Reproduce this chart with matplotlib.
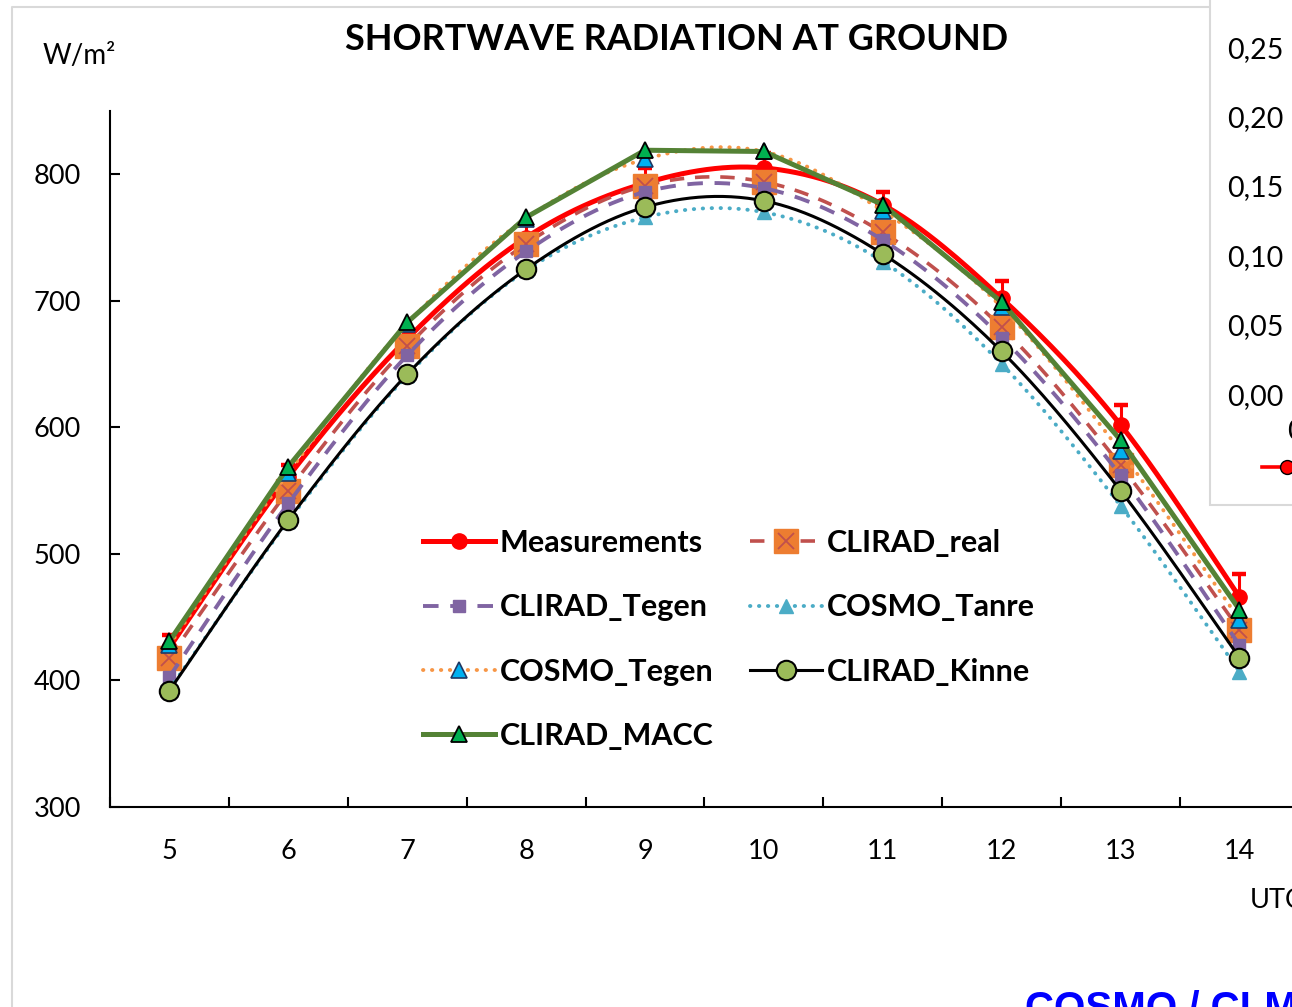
import matplotlib
matplotlib.use("Agg")
import matplotlib.pyplot as plt
import numpy as np
from matplotlib.lines import Line2D
from matplotlib.patches import Rectangle
from matplotlib.legend_handler import HandlerTuple

plt.rcParams['font.family'] = ['Lato', 'DejaVu Sans']

# data (W/m2, per UTC hour)
hours = [5, 6, 7, 8, 9, 10, 11, 12, 13, 14]
measurements = [426, 561, 670, 750, 793, 805, 776, 702, 602, 466]
meas_err = [10, 9, 7, 11, 12, 12, 10, 14, 16, 18]
clirad_real = [418, 550, 664, 745, 791, 794, 754, 679, 570, 440]
clirad_tegen = [403, 540, 657, 739, 786, 789, 748, 671, 562, 428]
cosmo_tanre = [393, 526, 641, 724, 766, 770, 731, 650, 538, 407]
cosmo_tegen = [428, 564, 682, 765, 812, 818, 771, 695, 581, 448]
clirad_kinne = [392, 527, 642, 725, 774, 779, 737, 660, 550, 418]
clirad_macc = [431, 569, 683, 766, 819, 818, 776, 699, 590, 456]

y_ticks = [300, 400, 500, 600, 700, 800]
right_ticks = ['0,25', '0,20', '0,15', '0,10', '0,05', '0,00']

W, H = 1292, 1007


def fx(px):
    return px / W


def fy(py):
    return 1 - py / H


# Excel-like smoothed line (bezier through the points)
def smooth(x, y, n=30):
    x = np.asarray(x, float)
    y = np.asarray(y, float)
    px = np.concatenate([[x[0]], x, [x[-1]]])
    py = np.concatenate([[y[0]], y, [y[-1]]])
    t = np.linspace(0, 1, n)
    xs, ys = [], []
    for i in range(len(x) - 1):
        p0 = np.array([px[i], py[i]])
        p1 = np.array([px[i + 1], py[i + 1]])
        p2 = np.array([px[i + 2], py[i + 2]])
        p3 = np.array([px[i + 3], py[i + 3]])
        c1 = p1 + (p2 - p0) / 6
        c2 = p2 - (p3 - p1) / 6
        b = ((1 - t) ** 3)[:, None] * p1 + (3 * (1 - t) ** 2 * t)[:, None] * c1 \
            + (3 * (1 - t) * t ** 2)[:, None] * c2 + (t ** 3)[:, None] * p2
        xs.append(b[:, 0])
        ys.append(b[:, 1])
    return np.concatenate(xs), np.concatenate(ys)


fig = plt.figure(figsize=(W / 100, H / 100), dpi=100)
ax = fig.add_axes([fx(110), fy(807), (W - 110) / W, (807 - 111) / H])

# series styles: (label, data, line kwargs, marker kwargs, smoothed)
dash = (0, (4, 3))
dot = (0, (0.1, 2.2))
series = [
    ('Measurements', measurements, dict(color='#FF0000', lw=3.6, ls='-'),
     dict(marker='o', ms=11, mfc='#FF0000', mec='#FF0000'), True),
    ('CLIRAD_real', clirad_real, dict(color='#C0504D', lw=2.6, ls=dash),
     dict(marker='s', ms=17, mfc='#ED7D31', mec='#ED7D31'), True),
    ('CLIRAD_Tegen', clirad_tegen, dict(color='#8064A2', lw=2.8, ls=dash),
     dict(marker='s', ms=9, mfc='#8064A2', mec='#8064A2'), True),
    ('COSMO_Tanre', cosmo_tanre, dict(color='#4BACC6', lw=2.8, ls=dot, dash_capstyle='round'),
     dict(marker='^', ms=10, mfc='#4BACC6', mec='#4BACC6'), True),
    ('COSMO_Tegen', cosmo_tegen, dict(color='#F79646', lw=2.8, ls=dot, dash_capstyle='round'),
     dict(marker='^', ms=11, mfc='#00B0F0', mec='#1F3864', mew=1.2), True),
    ('CLIRAD_Kinne', clirad_kinne, dict(color='#000000', lw=2.2, ls='-'),
     dict(marker='o', ms=14, mfc='#9BBB59', mec='#000000', mew=1.5), True),
    ('CLIRAD_MACC', clirad_macc, dict(color='#548235', lw=3.6, ls='-'),
     dict(marker='^', ms=11, mfc='#00B050', mec='#000000', mew=1.3), False),
]

handles = {}
for i, (label, vals, lkw, mkw, sm) in enumerate(series):
    z = 2 + 2 * i
    if sm:
        sx, sy = smooth(hours, vals)
    else:
        sx, sy = hours, vals
    ax.plot(sx, sy, zorder=z, **lkw)
    if label == 'Measurements':
        ax.errorbar(hours, vals, yerr=[np.zeros(len(vals)), meas_err], fmt='none',
                    ecolor='#FF0000', elinewidth=2.2, capsize=0, zorder=z)
        top = np.array(vals) + np.array(meas_err)
        ax.plot(hours, top, ls='none', marker='_', ms=10, mew=3.2, color='#FF0000', zorder=z)
    ax.plot(hours, vals, ls='none', zorder=z + 1, **mkw)
    h = Line2D([], [], **lkw, **mkw)
    if label == 'CLIRAD_real':
        ax.plot(hours, vals, ls='none', marker='x', ms=12, mew=1.3, color='#C0504D',
                zorder=z + 1)
        hx = Line2D([], [], ls='none', marker='x', ms=12, mew=1.3, color='#C0504D')
        h = (h, hx)
    handles[label] = h

ax.set_yticks(y_ticks)
ax.set_xticks(np.arange(4.5, 15, 1))
ax.set_xticks(hours, minor=True)
ax.set_xticklabels([])
ax.set_xticklabels([str(h) for h in hours], minor=True)
ax.set_xlim(4.5, 4.5 + (W - 110) / 118.89)
ax.set_ylim(300, 850)
ax.tick_params(axis='x', which='major', direction='in', length=7, width=1.5)
ax.tick_params(axis='x', which='minor', length=0, pad=23, labelsize=19.5)
ax.tick_params(axis='y', direction='in', length=7, width=1.5, pad=21, labelsize=19.5)
for s in ['top', 'right']:
    ax.spines[s].set_visible(False)
for s in ['left', 'bottom']:
    ax.spines[s].set_linewidth(1.5)

order = ['Measurements', 'CLIRAD_Tegen', 'COSMO_Tegen', 'CLIRAD_MACC',
         'CLIRAD_real', 'COSMO_Tanre', 'CLIRAD_Kinne']
leg = fig.legend([handles[k] for k in order], order, ncol=2, loc='upper left',
                 bbox_to_anchor=(fx(423), fy(529)), frameon=False,
                 prop=dict(weight='bold', size=22), handlelength=2.36,
                 handletextpad=0.16, columnspacing=1.18, labelspacing=1.19,
                 borderpad=0, borderaxespad=0,
                 handler_map={tuple: HandlerTuple(ndivide=1)})

fig.text(fx(677), fy(40), 'SHORTWAVE RADIATION AT GROUND', ha='center', va='center',
         weight='bold', size=25.9)
fig.text(fx(43), fy(56), 'W/m²', ha='left', va='center', size=20)
fig.text(fx(1250), fy(900), 'UTC', ha='left', va='center', size=19.5)

# outer border of the chart
fig.add_artist(Line2D([fx(12), fx(12), fx(1210)], [0, fy(7), fy(7)],
                      color='#D9D9D9', lw=1.5, transform=fig.transFigure))

# neighbouring chart, partly visible at the top right
fig.add_artist(Rectangle((fx(1210), fy(505)), 0.2, 0.7, transform=fig.transFigure,
                         facecolor='white', edgecolor='#D9D9D9', lw=1.5, zorder=5))
for lab, py in zip(right_ticks, [50, 119, 188, 258, 327, 397]):
    fig.text(fx(1227), fy(py), lab, ha='left', va='center', size=20.5, zorder=6)
fig.text(fx(1287), fy(432), '0', ha='left', va='center', size=20.5, zorder=6)
fig.add_artist(Line2D([fx(1262), fx(1300)], [fy(467), fy(467)], color='#FF0000',
                      lw=2.6, transform=fig.transFigure, zorder=6))
fig.add_artist(Line2D([fx(1287)], [fy(467)], color='#FF0000', marker='o', ms=10,
                      mec='#000000', mew=1, transform=fig.transFigure, zorder=7))

fig.text(fx(1025), fy(990), 'COSMO / CLM', ha='left', va='top', color='#0000FF',
         weight='bold', size=29, family='Liberation Sans')

fig.savefig('out.png', dpi=100)
